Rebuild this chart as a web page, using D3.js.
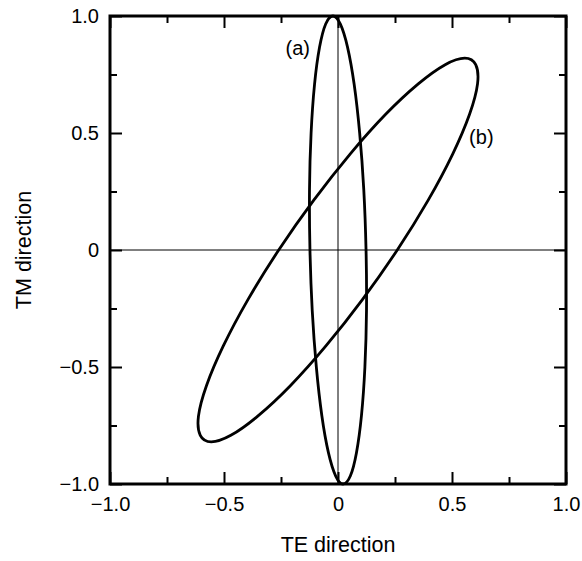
<!DOCTYPE html>
<html>
<head>
<meta charset="utf-8">
<script src="https://cdn.jsdelivr.net/npm/d3@7"></script>
<style>
	body { margin: 0; background: #fff; }
	svg { display: block; }
	text { font-family: "Liberation Sans", Arial, sans-serif; fill: #000; }
	.frame { fill: none; stroke: #000; stroke-width: 3; }
	.axis path { display: none; }
	.axis line { stroke: #000; stroke-width: 2; }
	.zero { stroke: #000; stroke-width: 1; }
	.ellipse { fill: none; stroke: #000; stroke-width: 2.8; }
</style>
</head>
<body>
<div id="chart"></div>
<script>

// tick values and labels
var majorTicks = [-1, -0.5, 0, 0.5, 1],
	minorTicks = [-0.75, -0.25, 0.25, 0.75],
	tickLabels = ["\u22121.0", "\u22120.5", "0", "0.5", "1.0"];

// points read round ellipse (a) - [TE, TM]
var ellipseA = [
	[-0.022, 1.0], [-0.054, 0.966], [-0.081, 0.866], [-0.103, 0.707], [-0.118, 0.5], [-0.125, 0.259],
	[-0.123, 0], [-0.113, -0.259], [-0.095, -0.5], [-0.071, -0.707], [-0.042, -0.866], [-0.010, -0.966],
	[0.022, -1.0], [0.054, -0.966], [0.081, -0.866], [0.103, -0.707], [0.118, -0.5], [0.125, -0.259],
	[0.123, 0], [0.113, 0.259], [0.095, 0.5], [0.071, 0.707], [0.042, 0.866], [0.010, 0.966]
];

// points read round ellipse (b)
var ellipseB = [
	[0.556, 0.82], [0.470, 0.792], [0.352, 0.710], [0.209, 0.580], [0.053, 0.41], [-0.107, 0.212],
	[-0.260, 0], [-0.395, -0.212], [-0.503, -0.41], [-0.577, -0.58], [-0.612, -0.71], [-0.604, -0.792],
	[-0.556, -0.82], [-0.470, -0.792], [-0.352, -0.710], [-0.209, -0.580], [-0.053, -0.41], [0.107, -0.212],
	[0.260, 0], [0.395, 0.212], [0.503, 0.41], [0.577, 0.58], [0.612, 0.71], [0.604, 0.792]
];

var curveLabels = [
	{ text: "(a)", at: [-0.23, 0.835] },
	{ text: "(b)", at: [0.575, 0.455] }
];

var W = 582, H = 561,
	margin = { top: 16, right: 16, bottom: 77, left: 110 },
	width = W - margin.left - margin.right,
	height = H - margin.top - margin.bottom;

var svg = d3.select("#chart").append("svg")
	.attr("width", W)
	.attr("height", H);

var g = svg.append("g")
	.attr("transform", "translate(" + margin.left + "," + margin.top + ")");

var x = d3.scaleLinear().domain([-1, 1]).range([0, width]),
	y = d3.scaleLinear().domain([-1, 1]).range([height, 0]);

var fmt = function(d) { return tickLabels[majorTicks.indexOf(d)]; };

// zero lines
g.append("line").attr("class", "zero")
	.attr("x1", x(0)).attr("x2", x(0)).attr("y1", 0).attr("y2", height);
g.append("line").attr("class", "zero")
	.attr("x1", 0).attr("x2", width).attr("y1", y(0)).attr("y2", y(0));

// axes, ticks pointing inward
function addAxis(axis, tx, ty, labels) {
	var a = g.append("g").attr("class", "axis")
		.attr("transform", "translate(" + tx + "," + ty + ")")
		.call(axis);
	if (!labels) {
		a.selectAll("text").remove();
	}
	return a;
}

var bottom = addAxis(d3.axisBottom(x).tickValues(majorTicks).tickSize(-12).tickPadding(13).tickFormat(fmt), 0, height, true);
bottom.selectAll("text").style("font-size", "20px");
addAxis(d3.axisBottom(x).tickValues(minorTicks).tickSize(-7), 0, height, false);
addAxis(d3.axisTop(x).tickValues(majorTicks).tickSize(-12), 0, 0, false);
addAxis(d3.axisTop(x).tickValues(minorTicks).tickSize(-7), 0, 0, false);

var left = addAxis(d3.axisLeft(y).tickValues(majorTicks).tickSize(-12).tickPadding(11).tickFormat(fmt), 0, 0, true);
left.selectAll("text").style("font-size", "20px");
addAxis(d3.axisLeft(y).tickValues(minorTicks).tickSize(-7), 0, 0, false);
addAxis(d3.axisRight(y).tickValues(majorTicks).tickSize(-12), width, 0, false);
addAxis(d3.axisRight(y).tickValues(minorTicks).tickSize(-7), width, 0, false);

// frame
g.append("rect").attr("class", "frame")
	.attr("width", width).attr("height", height);

// ellipses
var line = d3.line()
	.x(function(d) { return x(d[0]); })
	.y(function(d) { return y(d[1]); })
	.curve(d3.curveCardinalClosed.tension(0));

g.selectAll("path.ellipse")
	.data([ellipseA, ellipseB])
	.enter().append("path")
		.attr("class", "ellipse")
		.attr("d", line);

g.selectAll("text.curve-label")
	.data(curveLabels)
	.enter().append("text")
		.attr("class", "curve-label")
		.attr("x", function(d) { return x(d.at[0]); })
		.attr("y", function(d) { return y(d.at[1]); })
		.style("font-size", "20px")
		.text(function(d) { return d.text; });

// axis titles
svg.append("text")
	.attr("x", margin.left + width / 2)
	.attr("y", 552)
	.attr("text-anchor", "middle")
	.style("font-size", "21.5px")
	.text("TE direction");

svg.append("text")
	.attr("transform", "translate(31," + (margin.top + height / 2) + ") rotate(-90)")
	.attr("text-anchor", "middle")
	.style("font-size", "21.5px")
	.text("TM direction");

</script>
</body>
</html>
